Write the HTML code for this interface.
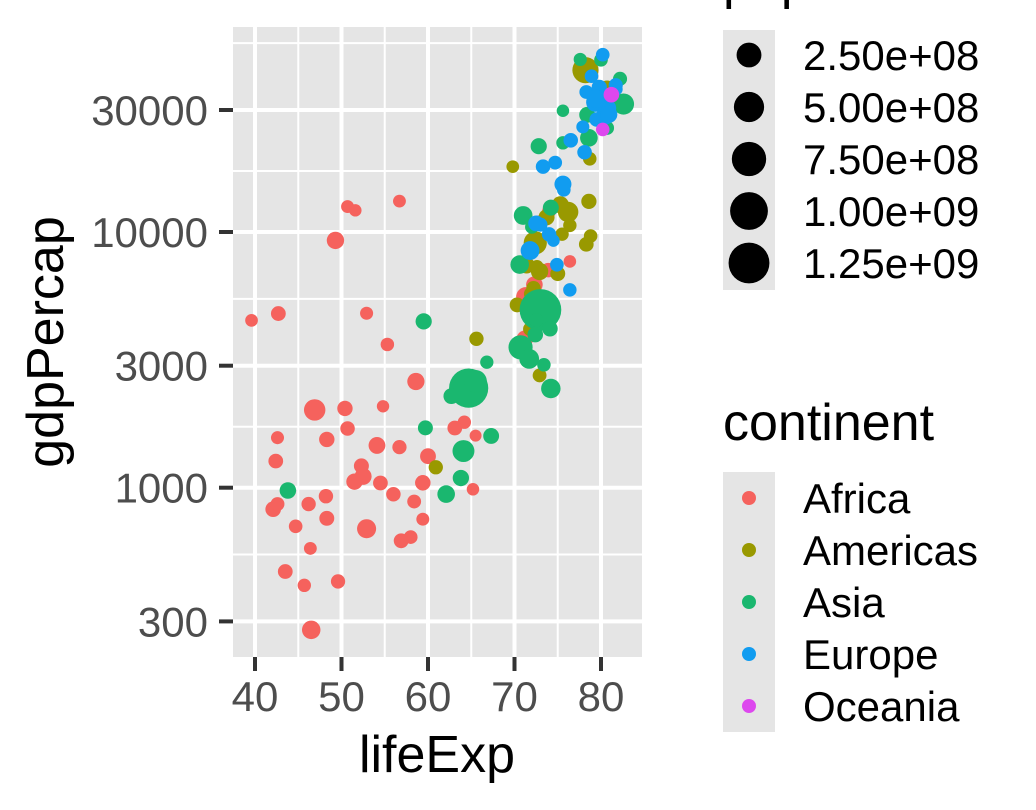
<!DOCTYPE html>
<html><head><meta charset="utf-8">
<style>
html,body{margin:0;padding:0;background:#fff;}
svg{display:block;font-family:"Liberation Sans",sans-serif;}
</style></head>
<body>
<svg id="chart" width="1036" height="810" viewBox="0 0 1036 810">
<rect x="233" y="27" width="409" height="630" fill="#e5e5e5"/>
<g id="grid"></g>
<g id="points"></g>
<g id="axes"></g>
<text x="437" y="772" font-size="52" text-anchor="middle" fill="#000">lifeExp</text>
<text transform="translate(63,342) rotate(-90)" font-size="52" text-anchor="middle" fill="#000">gdpPercap</text>
<text x="723" y="-2" font-size="52" fill="#000">pop</text>
<rect x="723" y="30" width="52" height="260" fill="#e5e5e5"/>
<g id="sizeLegend"></g>
<text x="723" y="440" font-size="52" fill="#000">continent</text>
<rect x="723" y="472" width="52" height="260" fill="#e5e5e5"/>
<g id="colorLegend"></g>
</svg>
<script>
const continents = ["Africa","Americas","Asia","Europe","Oceania"];
const colors = ["#F5625D","#999900","#1AB76F","#119CF0","#DD48EE"];
const xTicks = [40,50,60,70,80];
const yTicks = [300,1000,3000,10000,30000];
const sizeBreaks = [2.5e8,5e8,7.5e8,1e9,1.25e9];
const sizeLabels = ["2.50e+08","5.00e+08","7.50e+08","1.00e+09","1.25e+09"];
// Africa
const afLife = [72.3,42.7,56.7,50.7,52.3,49.6,50.4,44.7,50.7,65.2,46.5,55.3,48.3,54.8,71.3,51.6,58.0,52.9,56.7,59.4,60.0,56.0,46.4,54.1,42.6,45.7,74.0,59.4,48.3,54.5,64.2,72.8,71.2,42.1,52.9,56.9,46.9,76.4,46.2,65.5,63.1,42.6,48.2,49.3,58.6,39.6,52.5,58.4,73.9,51.5,42.4,43.5];
const afGdp = [6223,4797,1441,12570,1217,430,2042,706,1704,986,278,3633,1545,2082,5581,12154,641,691,13206,753,1328,943,579,1463,1569,415,12057,1045,759,1043,1803,10957,3820,824,4811,620,2014,7670,863,1598,1712,863,926,9270,2602,4513,1107,883,7093,1056,1271,470];
const afPop = [33.3,12.4,8.1,1.6,14.3,8.4,17.7,4.4,10.2,0.7,64.6,3.8,18.0,0.5,80.3,0.55,4.9,76.5,1.45,1.7,22.9,9.9,1.5,35.6,2.0,3.2,6.0,19.2,13.3,12.0,3.3,1.25,33.8,20.0,2.1,12.9,135,0.8,8.9,0.2,12.3,6.1,9.1,44.0,42.3,1.1,38.1,5.7,10.3,29.2,11.7,12.3];
// Americas
const amLife = [75.3,65.6,72.4,80.7,78.6,72.9,78.8,78.3,72.2,75.0,71.9,70.3,60.9,70.2,72.6,76.2,72.9,75.5,71.8,71.4,78.7,69.8,78.2,76.4,73.7];
const amGdp = [12779,3822,9066,36319,13172,7007,9645,8948,6025,6873,5728,5186,1202,3548,7321,11978,2749,9809,4173,7409,19329,18009,42952,10611,11416];
const amPop = [40.3,9.1,190,33.4,16.3,44.2,4.1,11.4,9.3,13.8,6.9,12.6,8.5,7.5,2.8,108.7,5.7,3.2,6.7,28.7,3.9,1.06,301,3.4,26.1];
// Asia
const asLife = [43.8,75.6,64.1,59.7,73.0,82.2,64.7,70.7,71.0,59.5,80.7,82.6,72.5,67.3,78.6,77.6,72.0,74.2,66.8,62.1,63.8,75.6,65.5,71.7,72.8,80.0,72.4,74.1,78.4,70.6,74.2,73.4,62.7];
const asGdp = [975,29796,1391,1714,4959,39725,2452,3541,11606,4471,25523,31656,4519,1593,23348,47307,10461,12452,3096,944,1091,22316,2606,3190,21655,47143,3970,4185,28718,7458,2442,3025,2281];
const asPop = [31.9,0.7,150,14.1,1318.7,6.98,1110,223.5,69.5,27.5,6.4,127.5,6.1,23.3,49.0,2.5,3.9,24.8,2.9,47.8,28.9,3.2,169,91.1,27.6,4.55,20.4,19.3,23.2,65.1,85.3,4.0,22.2];
// Europe
const euLife = [76.4,79.8,79.4,74.9,73.0,75.7,76.5,78.3,79.3,80.7,79.4,79.5,73.3,81.8,78.9,80.5,74.5,79.8,80.2,75.6,78.1,72.5,74.0,74.7,77.9,80.9,80.9,81.7,71.8,79.4];
const euGdp = [5937,36126,33693,7446,10681,14619,22833,35278,33207,30470,32170,27538,18009,36181,40676,28570,9254,36798,49357,15390,20510,10808,9787,18678,25768,28821,33860,37506,8458,33203];
const euPop = [3.6,8.2,10.4,4.55,7.3,4.5,10.2,5.5,5.2,61.1,82.4,10.7,10.0,0.3,4.1,58.1,0.68,16.6,4.6,38.5,10.6,22.3,10.2,5.4,2.0,40.4,9.0,7.55,71.2,60.8];
// Oceania
const ocLife = [81.2,80.2];
const ocGdp = [34435,25185];
const ocPop = [20.4,4.1];

const lifeSets = [afLife,amLife,asLife,euLife,ocLife];
const gdpSets = [afGdp,amGdp,asGdp,euGdp,ocGdp];
const popSets = [afPop,amPop,asPop,euPop,ocPop];

const NS = "http://www.w3.org/2000/svg";
const PL = 233, PR = 642, PT = 27, PB = 657;
function xScale(v){ return 255 + (v - 40) * 8.65; }
function yScale(v){ return 487.7 - 255.7 * (Math.log10(v) - 3); }
const allPop = popSets.flat().map(p => p * 1e6);
const pMin = Math.min(...allPop), pMax = Math.max(...allPop);
function rScale(p){ const t = Math.max(0, (p - pMin) / (pMax - pMin)); return 2.97 * (1 + 5 * Math.sqrt(t)) + 3; }
function mk(tag, attrs, parent){ const e = document.createElementNS(NS, tag); for (const k in attrs) e.setAttribute(k, attrs[k]); parent.appendChild(e); return e; }

const grid = document.getElementById("grid");
[45,55,65,75].forEach(v => {
  const l = mk("line", {x1:xScale(v), x2:xScale(v), y1:PT, y2:PB, stroke:"#fff", "stroke-width":2}, grid);
  
  
});
const yMinor = [];
for (let i = 0; i < yTicks.length - 1; i++) yMinor.push(Math.sqrt(yTicks[i] * yTicks[i+1]));
yMinor.push(Math.sqrt(30000 * 100000));
yMinor.forEach(v => {
  const y = yScale(v); if (y < PT || y > PB) return;
  const l = mk("line", {x1:PL, x2:PR, y1:y, y2:y, stroke:"#fff", "stroke-width":2}, grid);
  
  
});
const axes = document.getElementById("axes");
xTicks.forEach(v => {
  const x = xScale(v);
  const l = mk("line", {x1:x, x2:x, y1:PT, y2:PB, stroke:"#fff", "stroke-width":4}, grid);
  
  
  const t = mk("line", {x1:x, x2:x, y1:PB, y2:PB+14, stroke:"#333", "stroke-width":4}, axes);
  
  
  const tx = mk("text", {x:x, y:711, "font-size":42, "text-anchor":"middle", fill:"#4d4d4d"}, axes);
  tx.textContent = v;
  
  
});
yTicks.forEach(v => {
  const y = yScale(v);
  const l = mk("line", {x1:PL, x2:PR, y1:y, y2:y, stroke:"#fff", "stroke-width":4}, grid);
  
  
  const t = mk("line", {x1:PL-14, x2:PL, y1:y, y2:y, stroke:"#333", "stroke-width":4}, axes);
  
  
  const tx = mk("text", {x:208, y:y+15, "font-size":42, "text-anchor":"end", fill:"#4d4d4d"}, axes);
  tx.textContent = v;
  
  
});

const pts = document.getElementById("points");
lifeSets.forEach((arr, ci) => {
  arr.forEach((le, i) => {
    const c = mk("circle", {cx:xScale(le), cy:yScale(gdpSets[ci][i]), r:rScale(popSets[ci][i]*1e6), fill:colors[ci]}, pts);
    
    
  });
});

const sl = document.getElementById("sizeLegend");
sizeBreaks.forEach((b, i) => {
  const y = 55 + i * 52;
  const c = mk("circle", {cx:749, cy:y, r:rScale(b), fill:"#000"}, sl);
  
  
  const t = mk("text", {x:803, y:y+15, "font-size":42, fill:"#000"}, sl);
  t.textContent = sizeLabels[i];
  
  
});
const cl = document.getElementById("colorLegend");
continents.forEach((n, i) => {
  const y = 498 + i * 52;
  const c = mk("circle", {cx:749, cy:y, r:7, fill:colors[i]}, cl);
  
  
  const t = mk("text", {x:803, y:y+15, "font-size":42, fill:"#000"}, cl);
  t.textContent = n;
  
  
});
</script>
</body></html>
